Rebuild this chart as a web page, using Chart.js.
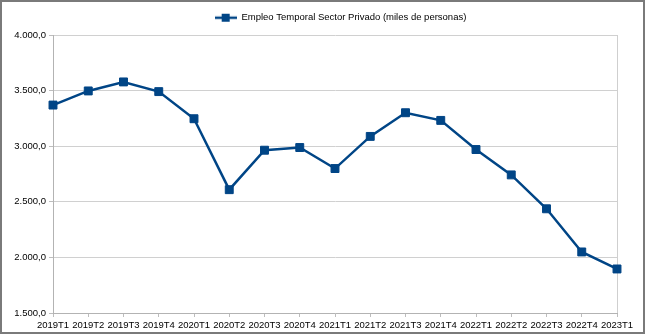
<!DOCTYPE html>
<html>
<head>
<meta charset="utf-8">
<script src="https://cdn.jsdelivr.net/npm/chart.js@4/dist/chart.umd.min.js"></script>
<style>
  html, body { margin: 0; padding: 0; background: #ffffff; }
  #frame { position: absolute; left: 0; top: 0; width: 645px; height: 334px; box-sizing: border-box; border: 2px solid #7a7a7a; background: #fff; }
  #wrap { position: absolute; left: 0; top: 0; width: 641px; height: 330px; }
</style>
</head>
<body>
<div id="frame"><div id="wrap"><canvas id="c"></canvas></div></div>
<script>
const categories = ["2019T1","2019T2","2019T3","2019T4","2020T1","2020T2","2020T3","2020T4","2021T1","2021T2","2021T3","2021T4","2022T1","2022T2","2022T3","2022T4","2023T1"];
const seriesName = "Empleo Temporal Sector Privado (miles de personas)";
const seriesValues = [3370, 3497, 3578, 3491, 3247, 2609, 2964, 2988, 2799, 3088, 3301, 3232, 2970, 2742, 2437, 2049, 1896];
const yTicks = [1500, 2000, 2500, 3000, 3500, 4000];

const lineColor = '#004586';
const textColor = '#000000';
const fontFamily = "'Liberation Sans', Arial, sans-serif";
const fontSize = 9.5;

function fmt(v) {
  const s = Math.round(v).toString();
  const withDots = s.replace(/\B(?=(\d{3})+(?!\d))/g, '.');
  return withDots + ',0';
}

// legend symbol: line with square marker
const sym = document.createElement('canvas');
sym.width = 22; sym.height = 10;
(function(){
  const g = sym.getContext('2d');
  g.strokeStyle = lineColor; g.lineWidth = 2.5;
  g.beginPath(); g.moveTo(0, 5); g.lineTo(22, 5); g.stroke();
  g.fillStyle = lineColor; g.fillRect(7, 1, 8, 8);
})();

const legendLayout = {
  id: 'legendLayout',
  beforeInit(chart) {
    const origFit = chart.legend.fit;
    chart.legend.fit = function() { origFit.bind(chart.legend)(); this.height = 33; };
  },
  afterLayout(chart) {
    const lg = chart.legend;
    lg.left += 31; lg.right += 31;
    lg.top += 1; lg.bottom += 1;
  }
};

new Chart(document.getElementById('c'), {
  type: 'line',
  data: {
    labels: categories,
    datasets: [{
      label: seriesName,
      data: seriesValues,
      borderColor: lineColor,
      backgroundColor: lineColor,
      borderWidth: 2.5,
      pointStyle: 'rect',
      pointRadius: 5.6,
      pointHoverRadius: 5.6,
      pointBorderWidth: 1,
      pointBackgroundColor: lineColor,
      pointBorderColor: lineColor,
      tension: 0,
      fill: false
    }]
  },
  options: {
    responsive: true,
    maintainAspectRatio: false,
    animation: false,
    events: [],
    layout: { padding: { left: 0, right: 26, top: 0, bottom: 0 } },
    plugins: {
      legend: {
        display: true,
        position: 'top',
        labels: {
          usePointStyle: true,
          pointStyle: sym,
          pointStyleWidth: 22,
          boxHeight: 10,
          color: textColor,
          font: { family: fontFamily, size: fontSize },
          padding: 10,
          generateLabels(chart) {
            return [{ text: seriesName, pointStyle: sym, fillStyle: lineColor, strokeStyle: lineColor, lineWidth: 0, fontColor: textColor, datasetIndex: 0 }];
          }
        }
      },
      tooltip: { enabled: false }
    },
    scales: {
      x: {
        type: 'category',
        offset: false,
        afterFit(scale) { scale.height = 19; },
        grid: {
          display: true,
          drawOnChartArea: true,
          color: (ctx) => ctx.index === categories.length - 1 ? '#cfcfcf' : 'rgba(0,0,0,0)',
          tickColor: '#bdbdbd',
          tickLength: 4,
          lineWidth: 1
        },
        border: { display: true, color: '#b3b3b3', width: 1 },
        ticks: {
          autoSkip: false,
          maxRotation: 0,
          minRotation: 0,
          padding: 3,
          color: textColor,
          font: { family: fontFamily, size: fontSize }
        }
      },
      y: {
        min: 1500,
        max: 4000,
        afterFit(scale) { scale.width = 51; },
        afterBuildTicks(scale) { scale.ticks = yTicks.map(v => ({ value: v })); },
        grid: {
          color: '#d0d0d0',
          tickColor: '#bdbdbd',
          tickLength: 4,
          lineWidth: 1
        },
        border: { display: true, color: '#b3b3b3', width: 1 },
        ticks: {
          padding: 3,
          color: textColor,
          font: { family: fontFamily, size: fontSize },
          callback: (v) => fmt(v)
        }
      }
    }
  },
  plugins: [legendLayout]
});
</script>
</body>
</html>
